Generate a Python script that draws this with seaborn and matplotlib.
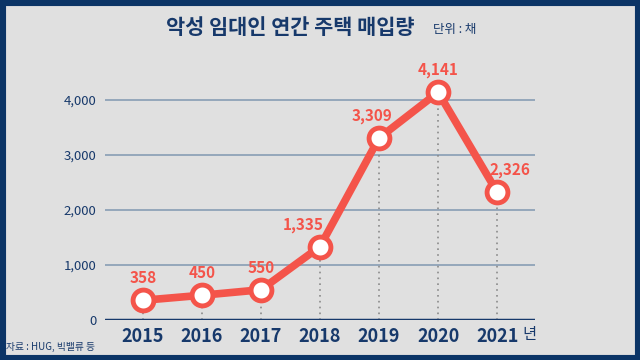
import matplotlib
matplotlib.use("Agg")
import matplotlib.pyplot as plt
import seaborn as sns
import pandas as pd
from matplotlib.patches import Rectangle

years = [2015, 2016, 2017, 2018, 2019, 2020, 2021]
purchases = [358, 450, 550, 1335, 3309, 4141, 2326]
yticks = [0, 1000, 2000, 3000, 4000]
label_dx = [0, 0, 0, -12, -5, 0, 9]

sns.set_theme(style="white")
plt.rcParams['font.family'] = ['Noto Sans CJK KR', 'DejaVu Sans']

NAVY = "#17396b"
RED = "#f4544a"
BG = "#e0e0e0"

df = pd.DataFrame({"year": years, "count": purchases})

fig = plt.figure(figsize=(6.4, 3.6), dpi=100)
fig.patch.set_facecolor(BG)
fig.patches.append(Rectangle((0, 0), 1, 1, transform=fig.transFigure, fill=False,
                             edgecolor="#0b3466", linewidth=8, zorder=10))

ax = fig.add_axes([105/640, 1-320/360, 430/640, 253/360])
ax.set_facecolor(BG)

for y in yticks[1:]:
    ax.axhline(y, color="#8097b0", linewidth=1.1, zorder=1)
ax.axhline(0, color=NAVY, linewidth=2.5, zorder=2)

ax.vlines(years, 0, purchases, colors="#8a8a8a", linestyles=(0, (1, 2.5)), linewidth=1.2, zorder=1)

sns.lineplot(data=df, x="year", y="count", ax=ax, color=RED, linewidth=5.5,
             marker="o", markersize=15, markerfacecolor="white",
             markeredgecolor=RED, markeredgewidth=3.5, zorder=5)

for x, v, dx in zip(years, purchases, label_dx):
    ax.annotate(f"{v:,}", (x, v), xytext=(dx, 10), textcoords="offset points",
                ha="center", va="bottom", color=RED, fontsize=11, fontweight="bold", zorder=6)

ax.set_xlim(2014.36, 2021.64)
ax.set_ylim(0, 4600)
ax.set_yticks(yticks)
ax.set_yticklabels([f"{t:,}" for t in yticks], color=NAVY, fontsize=9.5)
ax.set_xticks(years)
ax.set_xticklabels([str(y) for y in years], color=NAVY, fontsize=13, fontweight="bold")
ax.tick_params(axis="both", length=0)
ax.tick_params(axis="y", pad=6)
ax.tick_params(axis="x", pad=5)
for s in ax.spines.values():
    s.set_visible(False)
ax.set_xlabel("")
ax.set_ylabel("")

fig.text(290/640, 1-28/360, "악성 임대인 연간 주택 매입량", ha="center", va="center",
         color=NAVY, fontsize=15, fontweight="bold")
fig.text(433/640, 1-30/360, "단위 : 채", ha="left", va="center", color=NAVY, fontsize=9)
fig.text(522/640, 1-335/360, "년", ha="left", va="center", color=NAVY, fontsize=11)
fig.text(6/640, 1-347/360, "자료 : HUG, 빅밸류 등", ha="left", va="center", color=NAVY, fontsize=7)

fig.savefig("out.png", dpi=100, facecolor=BG)
